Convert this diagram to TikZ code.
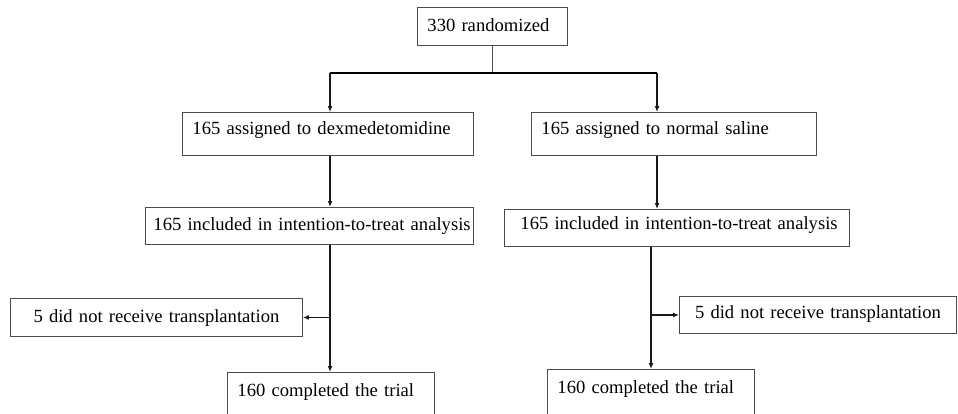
\documentclass[tikz,border=0pt]{standalone}
\usepackage{fontspec}
\setmainfont{Liberation Serif}
\usetikzlibrary{arrows.meta}
\tikzstyle{box}=[draw=black!70, line width=0.9pt, inner ysep=0pt, inner xsep=10pt, anchor=north west, align=left, font=\fontsize{18.6}{22}\selectfont]
\tikzstyle{flow}=[line width=1.7pt, black!90, -{Latex[length=6pt,width=5pt]}]

\begin{document}
\begin{tikzpicture}[x=1pt,y=-1pt]
\clip (0,0) rectangle (958,413);
\node[box, text width=130pt, text height=24pt, text depth=14pt] (rand) at (417,7) {330 randomized};
\node[box, text width=271pt, text height=22pt, text depth=21pt] (dex) at (182,112) {165 assigned to dexmedetomidine};
\node[box, text width=265pt, text height=22pt, text depth=21pt] (sal) at (531,112) {165 assigned to normal saline};
\node[box, inner xsep=8pt, text width=312pt, text height=23pt, text depth=14pt] (itt1) at (145,207) {\mbox{165 included in intention-to-treat analysis}};
\node[box, inner xsep=16pt, text width=313pt, text height=20pt, text depth=17pt] (itt2) at (504,209) {\mbox{165 included in intention-to-treat analysis}};
\node[box, align=center, text width=272pt, text height=24pt, text depth=14pt] (excl1) at (10,298) {5 did not receive transplantation};
\node[box, align=center, text width=257pt, text height=22pt, text depth=15pt] (excl2) at (679,296) {5 did not receive transplantation};
\node[box, text width=187pt, text height=24pt, text depth=40pt] (done1) at (227,372) {160 completed the trial};
\node[box, text width=187pt, text height=24pt, text depth=40pt] (done2) at (547,369) {160 completed the trial};
\coordinate (lt) at (330,73);
\coordinate (rt) at (657,73);
\coordinate (rb) at (651,314);
\draw[line width=0.8pt, black!70] (rand.south) -- (rand.south |- lt);
\draw[line width=1.2pt] (lt) -- (rt);
\draw[flow] (lt) -- (lt |- dex.north);
\draw[flow] (rt) -- (rt |- sal.north);
\draw[flow] (lt |- dex.south) -- (lt |- itt1.north);
\draw[flow] (rt |- sal.south) -- (rt |- itt2.north);
\draw[flow] (lt |- itt1.south) -- (lt |- done1.north);
\draw[flow] (rb |- itt2.south) -- (rb |- done2.north);
\draw[flow] (lt |- excl1.east) -- (excl1.east);
\draw[flow] (rb |- excl2.west) -- (excl2.west);
\end{tikzpicture}
\end{document}
